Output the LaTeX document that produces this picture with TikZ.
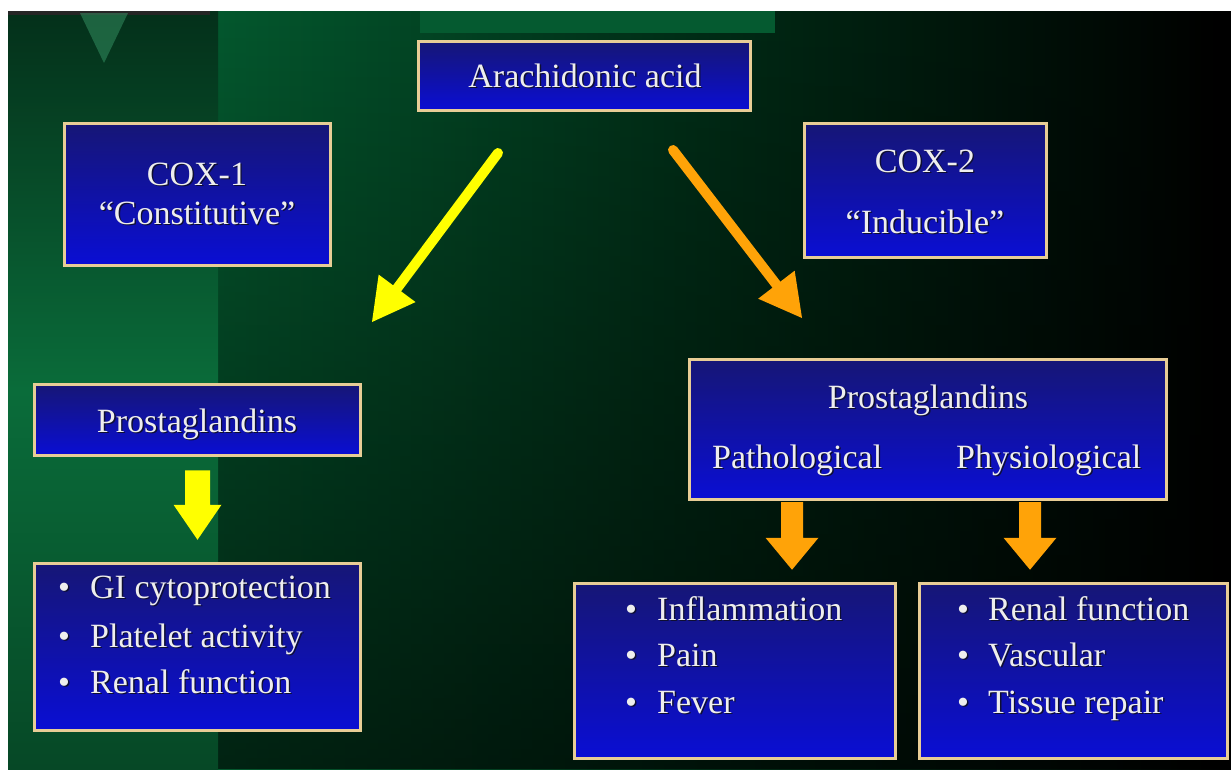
\documentclass[tikz,border=0pt]{standalone}
\usepackage{fontspec}
\setmainfont{Liberation Serif}
\usetikzlibrary{arrows.meta,calc,fadings}
\definecolor{tanc}{RGB}{232,205,150}
\definecolor{boxtop}{RGB}{22,22,118}
\definecolor{boxbot}{RGB}{10,14,212}
\definecolor{textc}{RGB}{238,238,238}
\definecolor{shadowc}{RGB}{15,15,50}
\definecolor{yel}{RGB}{255,255,0}
\definecolor{ora}{RGB}{255,163,8}
\definecolor{bandtop}{RGB}{4,48,26}
\definecolor{bandmid}{RGB}{10,108,58}
\definecolor{bandbot}{RGB}{6,72,38}
\definecolor{bgleft}{RGB}{4,88,46}
\definecolor{bgmid}{RGB}{1,42,21}
\definecolor{stripc}{RGB}{5,90,48}
\definecolor{trianc}{RGB}{60,160,110}
\tikzfading[name=fadedown, top color=transparent!100, bottom color=transparent!0]
\newcommand\shd[1]{\makebox[0pt][l]{\kern1.4pt\raisebox{-1.4pt}{\textcolor{shadowc}{#1}}}#1}
\newcommand\blockarr[6]{\fill[#1] ($(#2)+(-#4,0)$) -- ($(#2)+(#4,0)$) -- ($(#3)+(#4,-#6)$) -- ($(#3)+(#5,-#6)$) -- (#3) -- ($(#3)+(-#5,-#6)$) -- ($(#3)+(-#4,-#6)$) -- cycle;}
\begin{document}
\begin{tikzpicture}[x=1pt,y=-1pt,
  box/.style={draw=tanc, line width=3.5pt, top color=boxtop, bottom color=boxbot, inner sep=0pt},
  txt/.style={text=textc, inner sep=0pt, font=\fontsize{34}{40}\selectfont},
  item/.style={txt, anchor=base west},
  ctr/.style={txt, anchor=base},
  linearrow/.style={line width=10pt, line cap=round}]
\useasboundingbox (0,0) rectangle (1231,769);
% background
\fill[white] (0,0) rectangle (1231,769);
\fill[black] (8,11) rectangle (1231,769);
\shade[left color=bgleft, right color=black, middle color=bgmid] (218,11) rectangle (1231,769);
\fill[black, path fading=fadedown, opacity=0.6] (218,11) rectangle (1231,769);
\shade[top color=bandtop, bottom color=bandbot, middle color=bandmid] (8,11) rectangle (218,769);
\fill[stripc] (420,11) rectangle (775,33);
\fill[black!85] (8,11) rectangle (210,15);
\fill[trianc, opacity=0.45] (80,13) -- (128,13) -- (104,63) -- cycle;
% boxes
\node[box, minimum width=332pt, minimum height=69pt] (arach) at (584.5,76) {};
\node[box, minimum width=266pt, minimum height=142pt] (cox1) at (197.5,194.5) {};
\node[box, minimum width=242pt, minimum height=134pt] (cox2) at (925.5,190.5) {};
\node[box, minimum width=326pt, minimum height=71pt] (pgl) at (197.5,420) {};
\node[box, minimum width=326pt, minimum height=167pt] (gi) at (197.5,647) {};
\node[box, minimum width=477pt, minimum height=140pt] (pgr) at (928,429.5) {};
\node[box, minimum width=321pt, minimum height=175pt] (infl) at (735,671) {};
\node[box, minimum width=308pt, minimum height=175pt] (renal) at (1073.5,671) {};
% texts
\node[ctr] (tarach) at (585,87) {\shd{Arachidonic acid}};
\node[ctr] (tcox1a) at (197,185) {\shd{COX-1}};
\node[ctr] (tcox1b) at (197,224) {\shd{“Constitutive”}};
\node[ctr] (tcox2a) at (925,172) {\shd{COX-2}};
\node[ctr] (tcox2b) at (925,233) {\shd{“Inducible”}};
\node[ctr] (tpgl) at (197,432) {\shd{Prostaglandins}};
\node[ctr] (tpgr) at (928,408) {\shd{Prostaglandins}};
\node[item] (tpath) at (712,468) {\shd{Pathological}};
\node[item] (tphys) at (956,468) {\shd{Physiological}};
\node[item] (gi1) at (58,598) {\makebox[32pt][l]{\shd{•}}\shd{GI cytoprotection}};
\node[item] (gi2) at (58,647) {\makebox[32pt][l]{\shd{•}}\shd{Platelet activity}};
\node[item] (gi3) at (58,693) {\makebox[32pt][l]{\shd{•}}\shd{Renal function}};
\node[item] (in1) at (625,620) {\makebox[32pt][l]{\shd{•}}\shd{Inflammation}};
\node[item] (in2) at (625,666) {\makebox[32pt][l]{\shd{•}}\shd{Pain}};
\node[item] (in3) at (625,713) {\makebox[32pt][l]{\shd{•}}\shd{Fever}};
\node[item] (re1) at (957,620) {\makebox[31pt][l]{\shd{•}}\shd{Renal function}};
\node[item] (re2) at (957,666) {\makebox[31pt][l]{\shd{•}}\shd{Vascular}};
\node[item] (re3) at (957,713) {\makebox[31pt][l]{\shd{•}}\shd{Tissue repair}};
% diagonal arrows
\coordinate (ya1) at (498,153);
\coordinate (ya2) at (372,322);
\coordinate (oa1) at (673,150);
\coordinate (oa2) at (802,318);
\draw[yel, linearrow, -{Triangle[length=42pt,width=46pt,line width=0pt]}] (ya1) -- (ya2);
\draw[ora, linearrow, -{Triangle[length=42pt,width=46pt,line width=0pt]}] (oa1) -- (oa2);
% block arrows
\coordinate (yb1) at ($(pgl.south)+(0,13)$);
\coordinate (yb2) at ($(gi.north)+(0,-22)$);
\coordinate (ob1) at (792,502);
\coordinate (ob2) at ($(infl.north)+(57,-12)$);
\coordinate (oc1) at (1030,502);
\coordinate (oc2) at ($(renal.north)+(-43.5,-12)$);
\blockarr{yel}{yb1}{yb2}{12.5}{24}{35}
\blockarr{ora}{ob1}{ob2}{11}{26.5}{32}
\blockarr{ora}{oc1}{oc2}{11}{26.5}{32}
\end{tikzpicture}
\end{document}
